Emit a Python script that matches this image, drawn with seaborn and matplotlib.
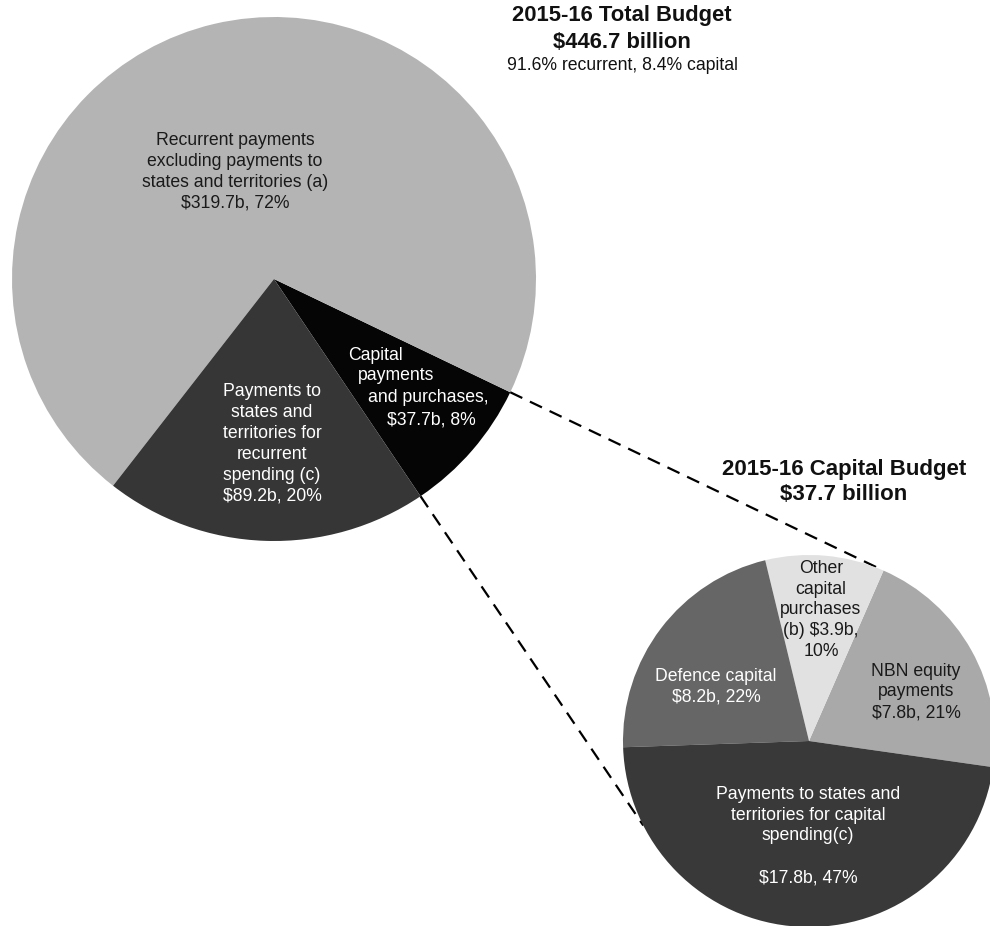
import numpy as np
import matplotlib.pyplot as plt
import seaborn as sns

sns.set_theme(style="white")
plt.rcParams['font.family'] = ['Liberation Sans', 'DejaVu Sans']

# 2015-16 total budget, $ billion
total_names = ["Capital payments and purchases",
               "Recurrent payments excluding payments to states and territories (a)",
               "Payments to states and territories for recurrent spending (c)"]
total_values = [37.7, 319.7, 89.2]
total_colors = ["#050505", "#b4b4b4", "#363636"]

# 2015-16 capital budget, $ billion
capital_names = ["NBN equity payments", "Other capital purchases (b)",
                 "Defence capital", "Payments to states and territories for capital spending(c)"]
capital_values = [7.8, 3.9, 8.2, 17.8]
capital_colors = ["#a9a9a9", "#e1e1e1", "#666666", "#393939"]

W, H = 990, 926
fig = plt.figure(figsize=(W / 100, H / 100), dpi=100)
ax = fig.add_axes([0, 0, 1, 1])


def py(y):
    # pixel row (from top) -> data y
    return H - y


main_c, main_r = (274, py(279)), 262
small_c, small_r = (809, py(741)), 186

w_main, _ = ax.pie(total_values, colors=total_colors, startangle=-56,
                   center=main_c, radius=main_r,
                   wedgeprops=dict(linewidth=0, zorder=2))
w_small, _ = ax.pie(capital_values, colors=capital_colors, startangle=-8.1,
                    center=small_c, radius=small_r,
                    wedgeprops=dict(linewidth=0, zorder=3))


def edge(c, r, ang):
    a = np.deg2rad(ang)
    return c[0] + r * np.cos(a), c[1] + r * np.sin(a)


cap = w_main[0]
p1 = edge(main_c, main_r, cap.theta2)
q1 = edge(small_c, small_r, w_small[0].theta2)
p2 = edge(main_c, main_r, cap.theta1)
q2 = edge(small_c, small_r, 207)
for p, q in [(p1, q1), (p2, q2)]:
    ax.plot([p[0], q[0]], [p[1], q[1]], color="black", lw=1.6,
            dashes=(6.0, 3.8), zorder=2.5, solid_capstyle="butt")

fs = 12.7
ls = 1.3

# titles
ax.text(622, py(15), "2015-16 Total Budget", ha="center", va="center",
        fontsize=15.8, fontweight="bold", color="#111111")
ax.text(622, py(43), "$446.7 billion", ha="center", va="center",
        fontsize=15.8, fontweight="bold", color="#111111")
ax.text(622, py(65), "91.6% recurrent, 8.4% capital", ha="center", va="center",
        fontsize=fs, color="#111111")
ax.text(844, py(470), "2015-16 Capital Budget", ha="center", va="center",
        fontsize=16, fontweight="bold", color="#111111")
ax.text(844, py(495), "$37.7 billion", ha="center", va="center",
        fontsize=16, fontweight="bold", color="#111111")

# main pie labels
ax.text(235, py(172), "Recurrent payments\nexcluding payments to\nstates and territories (a)\n$319.7b, 72%",
        ha="center", va="center", fontsize=fs, linespacing=ls, color="#1a1a1a", zorder=5)
ax.text(272, py(444), "Payments to\nstates and\nterritories for\nrecurrent\nspending (c)\n$89.2b, 20%",
        ha="center", va="center", fontsize=fs, linespacing=ls, color="white", zorder=5)
for txt, x, y in [("Capital", 348, 355), ("payments", 358, 376),
                  ("and purchases,", 368, 398), ("$37.7b, 8%", 387, 420)]:
    ax.text(x, py(y), txt, ha="left", va="center", fontsize=fs, color="white", zorder=5)

# capital pie labels
ax.text(821, py(610), "Other\ncapital\npurchases\n(b) $3.9b,\n10%",
        ha="center", va="center", fontsize=fs, linespacing=ls, color="#1a1a1a", zorder=5)
ax.text(716, py(687), "Defence capital\n$8.2b, 22%",
        ha="center", va="center", fontsize=fs, linespacing=ls, color="white", zorder=5)
ax.text(916, py(692), "NBN equity\npayments\n$7.8b, 21%",
        ha="center", va="center", fontsize=fs, linespacing=ls, color="#1a1a1a", zorder=5)
ax.text(808, py(836), "Payments to states and\nterritories for capital\nspending(c)\n\n$17.8b, 47%",
        ha="center", va="center", fontsize=fs, linespacing=ls, color="white", zorder=5)

ax.set_xlim(0, W)
ax.set_ylim(0, H)
ax.set_aspect("equal")
ax.axis("off")

fig.savefig("out.png", dpi=100, facecolor="white")
